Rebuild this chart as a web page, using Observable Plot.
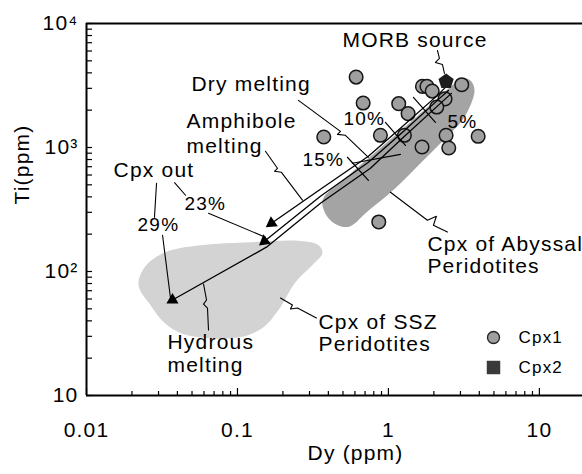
<!DOCTYPE html>
<html><head><meta charset="utf-8">
<script src="https://cdn.jsdelivr.net/npm/d3@7"></script>
<script src="https://cdn.jsdelivr.net/npm/@observablehq/plot@0.6"></script>
<style>body{margin:0;background:#fff} svg{display:block}</style>
</head><body><div id="chart"></div>
<script>
// ---- data (Dy ppm, Ti ppm) ----
const cpx1Dy = [0.611,0.680,1.17,1.35,0.373,0.885,1.276,1.67,2.41,2.51,3.93,0.863,1.68,1.80,1.95,2.37,2.09,3.06];
const cpx1Ti = [3697,2282,2257,1875,1215,1254,1254,1009,1254,991,1231,251,3111,3111,2851,2466,2119,3210];
const morbDy = [2.41];
const morbTi = [3412];

const abyssalDy = [0.366,0.519,0.820,1.30,2.05,2.65,3.09,3.49,3.71,3.60,3.09,2.50,1.76,1.11,0.705,0.560,0.481,0.401];
const abyssalTi = [376,565,915,1482,2400,3170,3610,3475,2997,2400,1656,1254,819,469,295,232,232,269];
const sszDy = [0.0221,0.0246,0.0333,0.0569,0.122,0.261,0.344,0.366,0.314,0.242,0.187,0.1466,0.1047,0.0614,0.0419,0.0324,0.0265];
const sszTi = [77.7,110.5,143,163,172.5,176,163,141,113,82,48.9,35,29.6,29.1,31.9,39.1,53.6];

// melting trends
const amphDy = [2.385,2.111,1.201,0.737,0.3545,0.168];
const amphTi = [3052,2633,1428,850,461,245];
const dryDy = [2.497,2.144,1.219,0.737,0.3545,0.1509];
const dryTi = [2886,2444,1301,760,405,175.7];
const hydDy = [2.614,2.210,1.257,0.760,0.3545,0.1556,0.0371];
const hydTi = [2732,2269,1208,680,355,157.2,58.9];

// melting-degree tick marks (5%, 10%, 15%, extra)
const pctTickDy = [[1.464,2.048],[0.955,1.296],[0.535,0.737],[0.5775,1.201]];
const pctTickTi = [[2536,1595],[1595,1041],[834,544],[746,881]];

// leader lines
const leaderDy = [
  [2.111,2.177,2.048,2.279,2.349],
  [0.2535,0.481,0.4595,0.519,0.737],
  [0.1532,0.1841,0.1758,0.1956,0.2694],
  [0.0291,0.0282],
  [0.0383,0.0453],
  [0.0643,0.1532],
  [0.0319,0.036],
  [0.0643,0.0633,0.0596,0.0624,0.0596],
  [1.031,1.812,2.079,1.986,2.459],
  [0.1927,0.2313,0.2244,0.2497,0.3336]
];
const leaderTi = [
  [6062,5226,4853,4677,3958],
  [2399,1350,1277,1254,834],
  [932,680,643,631,376],
  [515,274],
  [520,412],
  [295,189],
  [196,61.1],
  [33.8,50.7,54.6,58.9,79.2],
  [436,259,279,236,208],
  [61.1,53.6,49.8,50.7,42.2]
];

// annotation labels
const labelText = ["MORB source","Dry melting","Amphibole","melting","Cpx out",
  "Cpx of Abyssal","Peridotites","Cpx of SSZ","Peridotites","Hydrous","melting"];
const labelDy = [0.496,0.0496,0.0460,0.0460,0.0151,1.812,1.812,0.344,0.344,0.0344,0.0344];
const labelTi = [7297,3228,1626,1023,655,166,110.5,39.1,26.0,27.0,17.6];
const pctText = ["23%","29%","10%","5%","15%"];
const pctDy = [0.0446,0.0218,0.504,2.459,0.2694];
const pctTi = [349,236,1687,1595,789];

const xTicks = [0.01,0.1,1,10];
const xTickLabels = ["0.01","0.1","1","10"];
const yTicks = [10,100,1000,10000];
const yTickLabels = ["10","10²","10³","10⁴"];
const legendLabels = ["Cpx1","Cpx2"];

// ---- build tables ----
const pts = cpx1Dy.map((d,i)=>({x:d,y:cpx1Ti[i]}));
const morb = morbDy.map((d,i)=>({x:d,y:morbTi[i]}));
const abyssal = abyssalDy.map((d,i)=>({x:d,y:abyssalTi[i]}));
const ssz = sszDy.map((d,i)=>({x:d,y:sszTi[i]}));
const trend = (xs,ys,id)=>xs.map((d,i)=>({x:d,y:ys[i],id}));
const trends = [...trend(amphDy,amphTi,"amph"),...trend(dryDy,dryTi,"dry"),...trend(hydDy,hydTi,"hyd")];
const pctTicks = pctTickDy.flatMap((xs,k)=>trend(xs,pctTickTi[k],k));
const leaders = leaderDy.flatMap((xs,k)=>trend(xs,leaderTi[k],k));
const labels = labelText.map((t,i)=>({t,x:labelDy[i],y:labelTi[i]}));
const pcts = pctText.map((t,i)=>({t,x:pctDy[i],y:pctTi[i]}));
const last = a => a[a.length-1];

const minorX = [], minorY = [];
for (const p of [0.01,0.1,1]) for (let k=2;k<=9;k++) minorX.push(+(p*k).toPrecision(3));
for (const p of [10,100,1000]) for (let k=2;k<=9;k++) minorY.push(p*k);

const pentagon = {
  draw(ctx, size) {
    const r = Math.sqrt(size/Math.PI);
    for (let i=0;i<5;i++){
      const a = -Math.PI/2 + i*2*Math.PI/5;
      const px = r*Math.cos(a), py = r*Math.sin(a);
      if (i) ctx.lineTo(px,py); else ctx.moveTo(px,py);
    }
    ctx.closePath();
  }
};

const chart = Plot.plot({
  width: 582, height: 474,
  marginLeft: 86, marginRight: 0, marginTop: 23, marginBottom: 79,
  x: {type: "log", domain: [0.01, 19.3], label: null},
  y: {type: "log", domain: [10, 10000], label: null},
  style: {fontFamily: "'Liberation Sans', Arial, sans-serif", fontSize: "21px", letterSpacing: "1.2px", background: "#fff", color: "#000"},
  marks: [
    Plot.line(ssz, {x:"x", y:"y", curve:"catmull-rom-closed", fill:"#d3d3d3", stroke:"none"}),
    Plot.line(abyssal, {x:"x", y:"y", curve:"catmull-rom-closed", fill:"#a4a4a4", stroke:"none"}),
    Plot.dot(pts, {x:"x", y:"y", r:6.8, fill:"#9f9f9f", stroke:"#151515", strokeWidth:1.5}),
    Plot.line(trends, {x:"x", y:"y", z:"id", stroke:"#000", strokeWidth:1.3}),
    Plot.line(pctTicks, {x:"x", y:"y", z:"id", stroke:"#000", strokeWidth:1.2}),
    Plot.line(leaders, {x:"x", y:"y", z:"id", stroke:"#000", strokeWidth:1.1}),
    Plot.dot([{x:last(amphDy),y:last(amphTi)}], {x:"x", y:"y", symbol:"triangle", r:4.5, fill:"#000", stroke:"none", rotate:235}),
    Plot.dot([{x:last(dryDy),y:last(dryTi)}], {x:"x", y:"y", symbol:"triangle", r:4.5, fill:"#000", stroke:"none", rotate:231}),
    Plot.dot([{x:last(hydDy),y:last(hydTi)}], {x:"x", y:"y", symbol:"triangle", r:4.5, fill:"#000", stroke:"none"}),
    Plot.dot(morb, {x:"x", y:"y", symbol: pentagon, r:8, fill:"#1c1c1c", stroke:"none"}),
    Plot.text(labels, {x:"x", y:"y", text:"t", textAnchor:"start", lineAnchor:"middle", fontSize:21}),
    Plot.text(pcts, {x:"x", y:"y", text:"t", textAnchor:"start", lineAnchor:"middle", fontSize:19, letterSpacing:"0.6px"}),
    // legend
    Plot.dot([legendLabels[0]], {frameAnchor:"bottom-right", dx:-89, dy:-58, r:6, fill:"#9f9f9f", stroke:"#222", strokeWidth:1.3}),
    Plot.dot([legendLabels[1]], {frameAnchor:"bottom-right", dx:-89, dy:-28, symbol:"square", r:7.6, fill:"#3a3a3a", stroke:"none"}),
    Plot.text([legendLabels[0]], {frameAnchor:"bottom-right", dx:-64, dy:-58, textAnchor:"start", lineAnchor:"middle", fontSize:17, letterSpacing:"0.6px"}),
    Plot.text([legendLabels[1]], {frameAnchor:"bottom-right", dx:-64, dy:-28, textAnchor:"start", lineAnchor:"middle", fontSize:17, letterSpacing:"0.6px"}),
    // axes
    Plot.axisX(minorX, {tickSize:-4, text:null, strokeWidth:1.2, label:null}),
    Plot.axisX(xTicks, {tickSize:-7, text:null, strokeWidth:1.2, label:null}),
    Plot.axisX(xTicks, {tickSize:0, tickPadding:27, tickFormat:d=>xTickLabels[xTicks.indexOf(d)], fontSize:21, label:null}),
    Plot.axisY(minorY, {tickSize:-6, text:null, strokeWidth:1.2, label:null}),
    Plot.axisY(yTicks, {tickSize:-6, text:null, strokeWidth:1.2, label:null}),
    Plot.axisY(yTicks, {tickSize:0, tickPadding:8, tickFormat:d=>yTickLabels[yTicks.indexOf(d)], fontSize:21, label:null}),
    Plot.ruleX([0.01], {strokeWidth:2}),
    Plot.ruleY([10, 10000], {strokeWidth:2}),
    Plot.text(["Ti(ppm)"], {frameAnchor:"left", dx:-64, dy:-5, rotate:-90, fontSize:21}),
    Plot.text(["Dy (ppm)"], {frameAnchor:"bottom", dx:21, dy:58, lineAnchor:"middle", fontSize:21})
  ]
});
document.getElementById("chart").appendChild(chart);
</script>
</body></html>
